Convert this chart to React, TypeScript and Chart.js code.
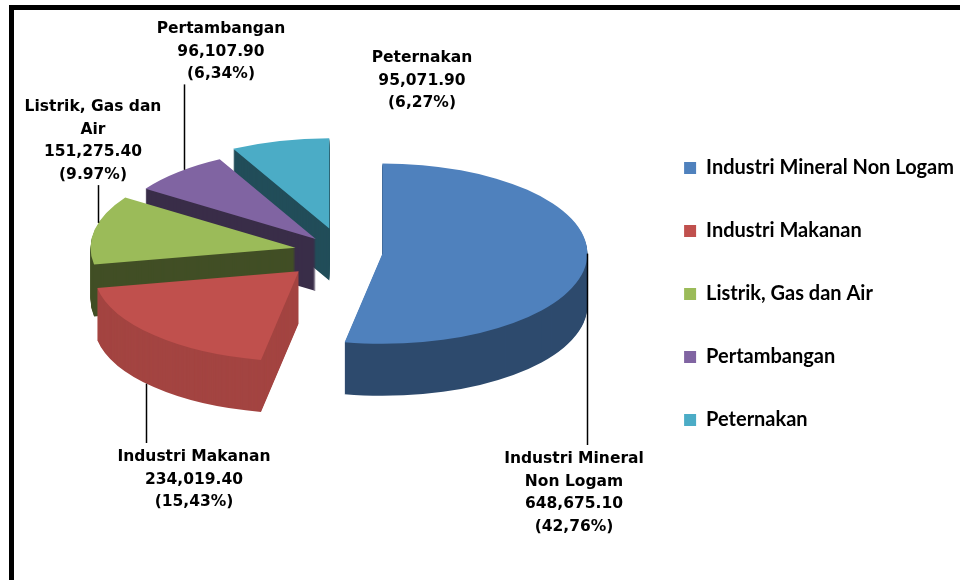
import React, { useEffect, useRef } from 'react';
import { Chart, registerables } from 'chart.js';

Chart.register(...registerables);

// ---------- data ----------
const categories = [
  'Industri Mineral Non Logam',
  'Industri Makanan',
  'Listrik, Gas dan Air',
  'Pertambangan',
  'Peternakan',
];
const values = [648675.1, 234019.4, 151275.4, 96107.9, 95071.9];
const percentLabels = ['(42,76%)', '(15,43%)', '(9.97%)', '(6,34%)', '(6,27%)'];
const nameLines = [
  ['Industri Mineral', 'Non Logam'],
  ['Industri Makanan'],
  ['Listrik, Gas dan', 'Air'],
  ['Pertambangan'],
  ['Peternakan'],
];

// ---------- style ----------
const colors = ['#4f81bd', '#c0504d', '#9bbb59', '#8064a2', '#4bacc6'];
const sideShade = [0.58, 0.85, 0.42, 0.45, 0.45];
const explode = [40, 62, 48, 40, 55];
const TILT = 0.44;
const DEPTH = 52;
const SHIFT_Y = -42;
const labelLayout = [
  { x: 574, y: 459, angle: 0, below: true },
  { x: 194, y: 457, angle: 138, below: true },
  { x: 93, y: 107, angle: 196, below: false },
  { x: 221, y: 29, angle: 230, below: false },
  { x: 422, y: 58, angle: null as number | null, below: false },
];
const LABEL_FONT = 'bold 15.5px "DejaVu Sans"';
const LINE_H = 22.7;

function sliceGeom(chart: any, i: number) {
  const arc = chart.getDatasetMeta(0).data[i];
  const p = arc.getProps(['x', 'y', 'startAngle', 'endAngle', 'outerRadius'], true);
  const mid = (p.startAngle + p.endAngle) / 2;
  const ox = explode[i] * Math.cos(mid);
  const oy = explode[i] * Math.sin(mid);
  const cy0 = p.y;
  const proj = (xu: number, yu: number) => ({ x: xu, y: cy0 + SHIFT_Y + TILT * (yu - cy0) });
  return { arc, p, ox, oy, cy0, proj };
}

const pie3d = {
  id: 'pie3d',
  beforeDatasetsDraw(chart: any) {
    const ctx = chart.ctx as CanvasRenderingContext2D;
    const n = values.length;
    const items = [] as { i: number; sy: number }[];
    for (let i = 0; i < n; i++) {
      const g = sliceGeom(chart, i);
      items.push({ i, sy: g.proj(g.p.x + g.ox, g.p.y + g.oy).y });
    }
    items.sort((a, b) => a.sy - b.sy);
    for (const { i } of items) {
      const g = sliceGeom(chart, i);
      ctx.save();
      ctx.translate(0, g.cy0 + SHIFT_Y);
      ctx.scale(1, TILT);
      ctx.translate(0, -g.cy0);
      ctx.translate(g.ox, g.oy);
      for (let s = DEPTH; s >= 1; s--) {
        ctx.save();
        ctx.translate(0, s / TILT);
        ctx.filter = `brightness(${sideShade[i]})`;
        g.arc.draw(ctx);
        ctx.restore();
      }
      g.arc.draw(ctx);
      ctx.restore();
    }
    return false;
  },
  afterDraw(chart: any) {
    const ctx = chart.ctx as CanvasRenderingContext2D;
    ctx.save();
    ctx.font = LABEL_FONT;
    ctx.fillStyle = '#000';
    ctx.textAlign = 'center';
    ctx.textBaseline = 'middle';
    for (let i = 0; i < values.length; i++) {
      const L = labelLayout[i];
      const lines = [
        ...nameLines[i],
        values[i].toLocaleString('en-US', { minimumFractionDigits: 2, maximumFractionDigits: 2 }),
        percentLabels[i],
      ];
      lines.forEach((t, k) => ctx.fillText(t, L.x, L.y + k * LINE_H));
      if (L.angle !== null) {
        const g = sliceGeom(chart, i);
        const a = (L.angle * Math.PI) / 180;
        const xu = g.p.x + g.ox + g.p.outerRadius * Math.cos(a);
        const yu = g.p.y + g.oy + g.p.outerRadius * Math.sin(a);
        const pt = g.proj(xu, yu);
        let y0: number, y1: number;
        if (L.below) {
          y0 = pt.y + (L.angle > 0 && L.angle < 180 ? DEPTH : 0);
          y1 = L.y - 14;
        } else {
          y0 = L.y + (lines.length - 1) * LINE_H + 10;
          y1 = pt.y;
        }
        ctx.beginPath();
        ctx.strokeStyle = '#000';
        ctx.lineWidth = 1.5;
        ctx.moveTo(Math.round(pt.x) + 0.5, y0);
        ctx.lineTo(Math.round(pt.x) + 0.5, y1);
        ctx.stroke();
      }
    }
    ctx.restore();
  },
};

export default function App() {
  const ref = useRef<HTMLCanvasElement>(null);
  useEffect(() => {
    if (!ref.current) return;
    const chart = new Chart(ref.current, {
      type: 'pie',
      data: {
        labels: categories,
        datasets: [
          {
            data: values,
            backgroundColor: colors,
            borderWidth: 0,
            radius: 205,
          } as any,
        ],
      },
      options: {
        animation: false,
        responsive: false,
        devicePixelRatio: 1,
        events: [],
        layout: { padding: { left: 44, right: -4, top: 8, bottom: 0 } },
        plugins: {
          tooltip: { enabled: false },
          legend: {
            position: 'right',
            labels: {
              boxWidth: 12,
              boxHeight: 12,
              padding: 43,
              color: '#000',
              font: { family: 'Lato', size: 20, weight: 'bold' },
            },
          },
        },
      },
      plugins: [pie3d as any],
    });
    return () => chart.destroy();
  }, []);
  return (
    <div style={{ position: 'fixed', left: 0, top: 0, width: 960, height: 580, background: '#fff', overflow: 'hidden' }}>
      <canvas ref={ref} width={960} height={580} style={{ position: 'absolute', left: 0, top: 0 }} />
      <div style={{ position: 'absolute', left: 9, top: 5, width: 951, height: 5, background: '#000' }} />
      <div style={{ position: 'absolute', left: 9, top: 5, width: 5, height: 575, background: '#000' }} />
    </div>
  );
}
